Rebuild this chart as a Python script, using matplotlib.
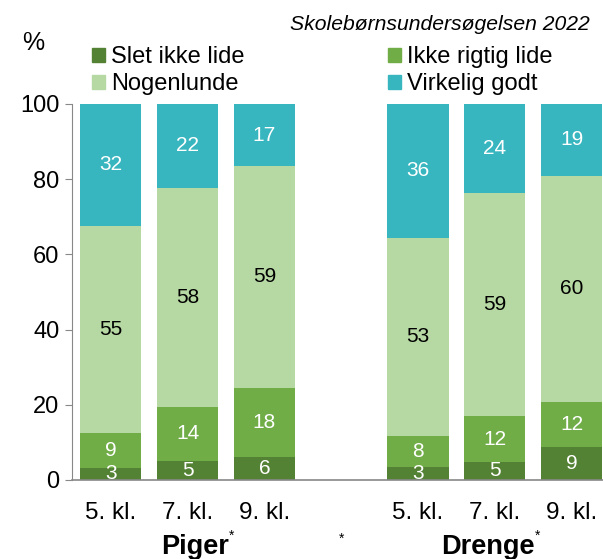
import matplotlib.pyplot as plt
import numpy as np
from matplotlib.patches import Patch
from matplotlib.transforms import blended_transform_factory

plt.rcParams['font.family'] = ['Liberation Sans', 'DejaVu Sans']

# data (percent)
classes = ['5. kl.', '7. kl.', '9. kl.', '5. kl.', '7. kl.', '9. kl.']
positions = [0, 1, 2, 4, 5, 6]
series = ['Slet ikke lide', 'Ikke rigtig lide', 'Nogenlunde', 'Virkelig godt']
slet_ikke = [3.2, 5.1, 6.1, 3.5, 4.8, 8.8]
ikke_rigtig = [9.3, 14.3, 18.4, 8.2, 12.2, 11.9]
nogenlunde = [55.1, 58.3, 59.0, 52.7, 59.3, 60.2]
virkelig = [32.4, 22.3, 16.5, 35.6, 23.7, 19.1]
label_slet = [3, 5, 6, 3, 5, 9]
label_ikke = [9, 14, 18, 8, 12, 12]
label_nogen = [55, 58, 59, 53, 59, 60]
label_virk = [32, 22, 17, 36, 24, 19]

colors = ['#548235', '#70AD47', '#B6D8A2', '#38B6BF']
txt_colors = ['white', 'white', 'black', 'white']

fig = plt.figure(figsize=(6.03, 5.59), dpi=100)
ax = fig.add_axes([72 / 603, 1 - 480 / 559, 531 / 603, 376 / 559])

values = [slet_ikke, ikke_rigtig, nogenlunde, virkelig]
labels = [label_slet, label_ikke, label_nogen, label_virk]
bottom = np.zeros(len(positions))
for vals, labs, col, tc, name in zip(values, labels, colors, txt_colors, series):
    vals = np.array(vals)
    ax.bar(positions, vals, 0.8, bottom=bottom, color=col, label=name)
    for x, b, v, lab in zip(positions, bottom, vals, labs):
        ax.text(x, b + v / 2, str(lab), ha='center', va='center',
                color=tc, fontsize=15)
    bottom += vals

ax.set_xlim(-0.505, 6.41)
ax.set_ylim(0, 100)
ax.set_yticks(range(0, 101, 20))
ax.set_xticks(positions)
ax.set_xticklabels(classes)
ax.tick_params(axis='x', length=0, labelsize=17.5, pad=16)
ax.tick_params(axis='y', labelsize=17, color='#888888', length=5, pad=4)
for s in ['top', 'right']:
    ax.spines[s].set_visible(False)
ax.spines['left'].set_color('#888888')
ax.spines['bottom'].set_color('#888888')
ax.spines['bottom'].set_linewidth(1.2)

# group labels
tr = blended_transform_factory(ax.transData, fig.transFigure)
y_grp = 1 - 547 / 559
ax.text(1.54, y_grp, 'Piger', transform=tr, ha='right', va='center',
        fontsize=19.5, fontweight='bold')
ax.text(1.54, y_grp + 0.02, '*', transform=tr, ha='left', va='center', fontsize=10)
ax.text(3.0, y_grp + 0.015, '*', transform=tr, ha='center', va='center', fontsize=10)
ax.text(5.52, y_grp, 'Drenge', transform=tr, ha='right', va='center',
        fontsize=19.5, fontweight='bold')
ax.text(5.52, y_grp + 0.02, '*', transform=tr, ha='left', va='center', fontsize=10)

fig.text(33 / 603, 1 - 43 / 559, '%', ha='center', va='center', fontsize=18)
fig.text(590 / 603, 1 - 25 / 559, 'Skolebørnsundersøgelsen 2022', ha='right',
         va='center', fontsize=15.2, style='italic')

# legend filled row by row
handles = [Patch(color=c) for c in colors]
order = [0, 2, 1, 3]
fig.legend([handles[i] for i in order], [series[i] for i in order],
           loc='upper left', bbox_to_anchor=(92 / 603, 1 - 46 / 559),
           ncol=2, frameon=False, fontsize=17, handlelength=0.55, handleheight=0.55,
           handletextpad=0.25, columnspacing=6.1, labelspacing=0.22, borderaxespad=0,
           borderpad=0)

fig.savefig('out.png', dpi=100)
